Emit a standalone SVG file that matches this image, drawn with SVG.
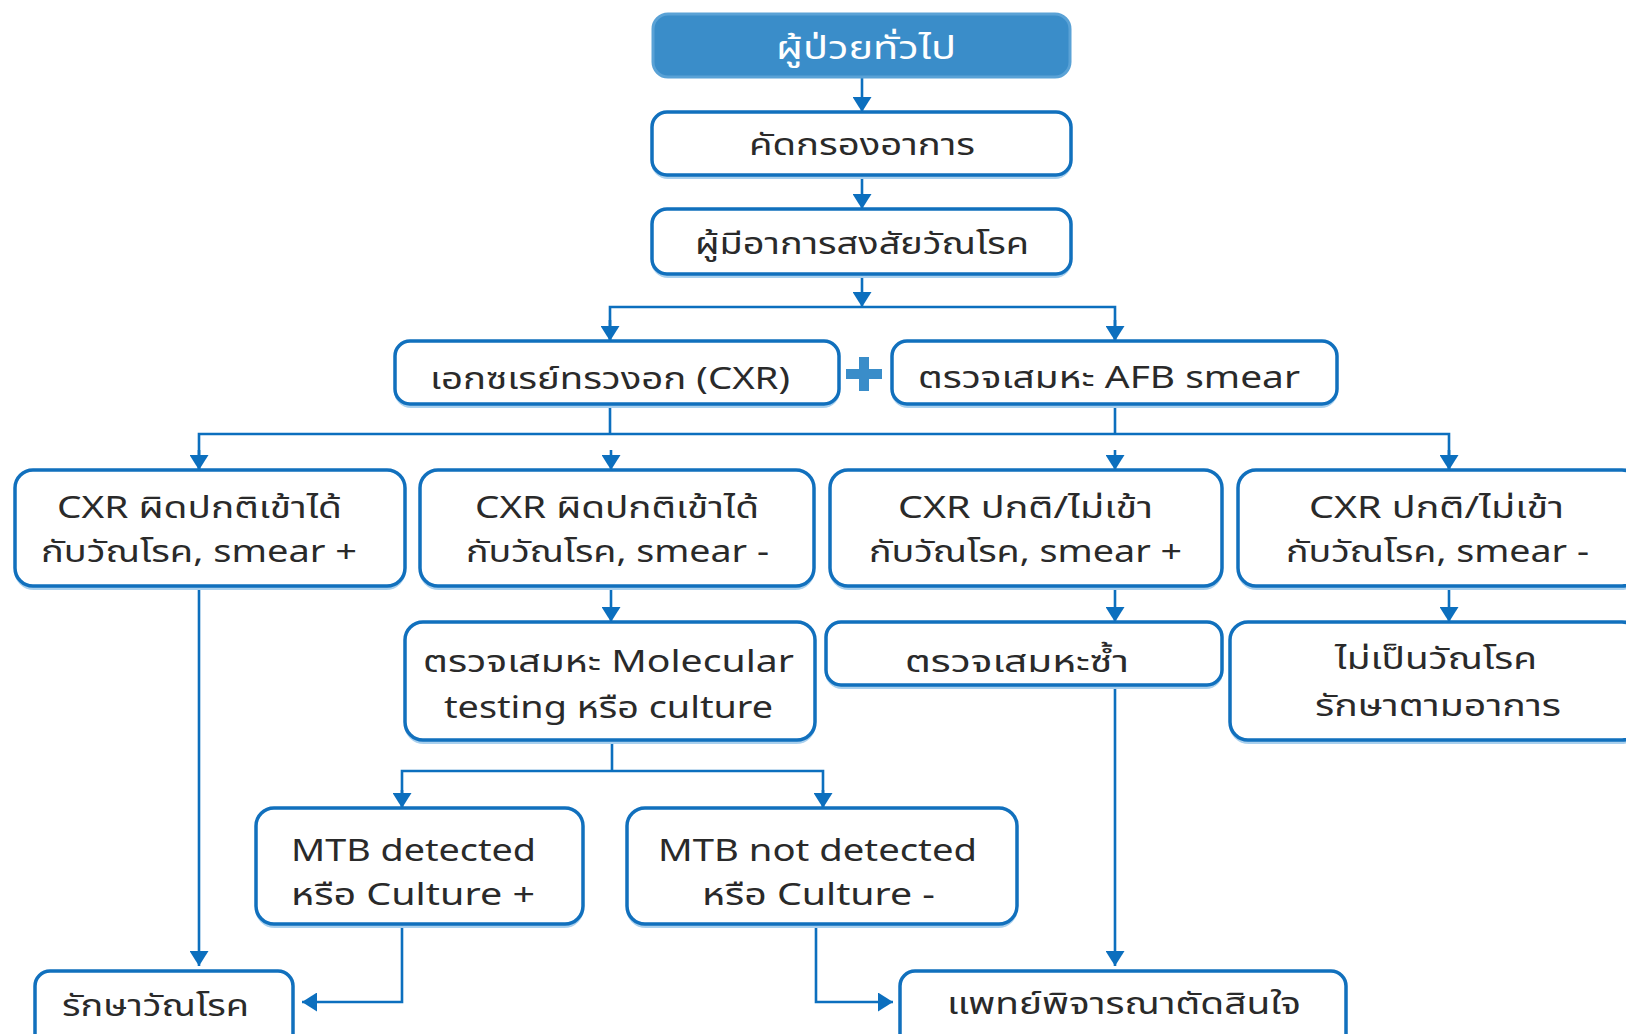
<svg xmlns="http://www.w3.org/2000/svg" width="1626" height="1034" viewBox="0 0 1626 1034">
<style>
.box{fill:#ffffff;stroke:#1170bd;stroke-width:3.5}
.halo{fill:none;stroke:#a9d0ee;stroke-width:4}
.top{fill:#3a8dc9;stroke:#5aa2d6;stroke-width:3}
.t{font-family:"Noto Sans Thai","Noto Sans","DejaVu Sans",sans-serif;font-size:30px;fill:#2a2a2a}
.tw{font-family:"Noto Sans Thai","Noto Sans","DejaVu Sans",sans-serif;font-size:32px;fill:#ffffff}
.c{fill:none;stroke:#0c6fbe;stroke-width:2.6}
</style>
<defs>
<marker id="ah" viewBox="0 0 10 10" refX="10" refY="5" markerWidth="15" markerHeight="19" markerUnits="userSpaceOnUse" orient="auto" preserveAspectRatio="none">
<path d="M0,0 L10,5 L0,10 z" fill="#0c6fbe"/>
</marker>
</defs>

<g id="connectors">
<path class="c" d="M862,77 V112" marker-end="url(#ah)"/>
<path class="c" d="M862,176 V209" marker-end="url(#ah)"/>
<path class="c" d="M862,275 V307" marker-end="url(#ah)"/>
<path class="c" d="M610,341 V307 H1115 V341" />
<path class="c" d="M610,320 V341" marker-end="url(#ah)"/>
<path class="c" d="M1115,320 V341" marker-end="url(#ah)"/>
<path class="c" d="M610,404 V434"/>
<path class="c" d="M1115,404 V434"/>
<path class="c" d="M199,470 V434 H1449 V470"/>
<path class="c" d="M199,450 V470" marker-end="url(#ah)"/>
<path class="c" d="M611,450 V470" marker-end="url(#ah)"/>
<path class="c" d="M1115,450 V470" marker-end="url(#ah)"/>
<path class="c" d="M1449,450 V470" marker-end="url(#ah)"/>
<path class="c" d="M611,586 V622" marker-end="url(#ah)"/>
<path class="c" d="M1115,586 V622" marker-end="url(#ah)"/>
<path class="c" d="M1449,586 V622" marker-end="url(#ah)"/>
<path class="c" d="M612,741 V771"/>
<path class="c" d="M402,808 V771 H823 V808"/>
<path class="c" d="M402,790 V808" marker-end="url(#ah)"/>
<path class="c" d="M823,790 V808" marker-end="url(#ah)"/>
<path class="c" d="M199,586 V966" marker-end="url(#ah)"/>
<path class="c" d="M402,925 V1002 H302" marker-end="url(#ah)"/>
<path class="c" d="M816,925 V1002 H893" marker-end="url(#ah)"/>
<path class="c" d="M1115,686 V966" marker-end="url(#ah)"/>
<path d="M859,357 h10 v12 h13 v10 h-13 v12 h-10 v-12 h-13 v-10 h13 z" fill="#3a8dc9"/>
</g>

<g id="n1">
<rect class="top" x="653" y="14" width="417" height="63" rx="15"/>
<text class="tw" x="776" y="59" textLength="180" lengthAdjust="spacingAndGlyphs">ผู้ป่วยทั่วไป</text>
</g>
<g id="n2">
<rect class="halo" x="653" y="114" width="417" height="63" rx="15"/>
<rect class="box" x="652" y="112" width="419" height="63" rx="15"/>
<text class="t" x="749" y="155" textLength="226" lengthAdjust="spacingAndGlyphs">คัดกรองอาการ</text>
</g>
<g id="n3">
<rect class="halo" x="653" y="211" width="417" height="65" rx="15"/>
<rect class="box" x="652" y="209" width="419" height="65" rx="15"/>
<text class="t" x="695" y="254" textLength="334" lengthAdjust="spacingAndGlyphs">ผู้มีอาการสงสัยวัณโรค</text>
</g>
<g id="n4">
<rect class="halo" x="396" y="343" width="442" height="63" rx="15"/>
<rect class="box" x="395" y="341" width="444" height="63" rx="15"/>
<text class="t" x="430" y="389" textLength="360" lengthAdjust="spacingAndGlyphs">เอกซเรย์ทรวงอก (CXR)</text>
</g>
<g id="n5">
<rect class="halo" x="893" y="343" width="443" height="63" rx="15"/>
<rect class="box" x="892" y="341" width="445" height="63" rx="15"/>
<text class="t" x="918" y="388" textLength="382" lengthAdjust="spacingAndGlyphs">ตรวจเสมหะ AFB smear</text>
</g>
<g id="n6">
<rect class="halo" x="16" y="472" width="388" height="116" rx="18"/>
<rect class="box" x="15" y="470" width="390" height="116" rx="18"/>
<text class="t" x="57" y="518" textLength="285" lengthAdjust="spacingAndGlyphs">CXR ผิดปกติเข้าได้</text>
<text class="t" x="41" y="562" textLength="316" lengthAdjust="spacingAndGlyphs">กับวัณโรค, smear +</text>
</g>
<g id="n7">
<rect class="halo" x="421" y="472" width="392" height="116" rx="18"/>
<rect class="box" x="420" y="470" width="394" height="116" rx="18"/>
<text class="t" x="475" y="518" textLength="284" lengthAdjust="spacingAndGlyphs">CXR ผิดปกติเข้าได้</text>
<text class="t" x="466" y="562" textLength="303" lengthAdjust="spacingAndGlyphs">กับวัณโรค, smear -</text>
</g>
<g id="n8">
<rect class="halo" x="831" y="472" width="390" height="116" rx="18"/>
<rect class="box" x="830" y="470" width="392" height="116" rx="18"/>
<text class="t" x="898" y="518" textLength="255" lengthAdjust="spacingAndGlyphs">CXR ปกติ/ไม่เข้า</text>
<text class="t" x="869" y="562" textLength="313" lengthAdjust="spacingAndGlyphs">กับวัณโรค, smear +</text>
</g>
<g id="n9">
<rect class="halo" x="1239" y="472" width="400" height="116" rx="18"/>
<rect class="box" x="1238" y="470" width="402" height="116" rx="18"/>
<text class="t" x="1309" y="518" textLength="255" lengthAdjust="spacingAndGlyphs">CXR ปกติ/ไม่เข้า</text>
<text class="t" x="1286" y="562" textLength="303" lengthAdjust="spacingAndGlyphs">กับวัณโรค, smear -</text>
</g>
<g id="n10">
<rect class="halo" x="406" y="624" width="408" height="118" rx="18"/>
<rect class="box" x="405" y="622" width="410" height="118" rx="18"/>
<text class="t" x="423" y="672" textLength="371" lengthAdjust="spacingAndGlyphs">ตรวจเสมหะ Molecular</text>
<text class="t" x="444" y="718" textLength="329" lengthAdjust="spacingAndGlyphs">testing หรือ culture</text>
</g>
<g id="n11">
<rect class="halo" x="827" y="624" width="394" height="63" rx="15"/>
<rect class="box" x="826" y="622" width="396" height="63" rx="15"/>
<text class="t" x="905" y="672" textLength="224" lengthAdjust="spacingAndGlyphs">ตรวจเสมหะซ้ำ</text>
</g>
<g id="n12">
<rect class="halo" x="1231" y="624" width="408" height="118" rx="18"/>
<rect class="box" x="1230" y="622" width="410" height="118" rx="18"/>
<text class="t" x="1335" y="669" textLength="202" lengthAdjust="spacingAndGlyphs">ไม่เป็นวัณโรค</text>
<text class="t" x="1315" y="716" textLength="246" lengthAdjust="spacingAndGlyphs">รักษาตามอาการ</text>
</g>
<g id="n13">
<rect class="halo" x="257" y="810" width="325" height="116" rx="18"/>
<rect class="box" x="256" y="808" width="327" height="116" rx="18"/>
<text class="t" x="291" y="861" textLength="245" lengthAdjust="spacingAndGlyphs">MTB detected</text>
<text class="t" x="291" y="905" textLength="244" lengthAdjust="spacingAndGlyphs">หรือ Culture +</text>
</g>
<g id="n14">
<rect class="halo" x="628" y="810" width="388" height="116" rx="18"/>
<rect class="box" x="627" y="808" width="390" height="116" rx="18"/>
<text class="t" x="658" y="861" textLength="319" lengthAdjust="spacingAndGlyphs">MTB not detected</text>
<text class="t" x="702" y="905" textLength="233" lengthAdjust="spacingAndGlyphs">หรือ Culture -</text>
</g>
<g id="n15">
<rect class="halo" x="36" y="973" width="256" height="80" rx="15"/>
<rect class="box" x="35" y="971" width="258" height="80" rx="15"/>
<text class="t" x="62" y="1016" textLength="187" lengthAdjust="spacingAndGlyphs">รักษาวัณโรค</text>
</g>
<g id="n16">
<rect class="halo" x="901" y="973" width="444" height="80" rx="15"/>
<rect class="box" x="900" y="971" width="446" height="80" rx="15"/>
<text class="t" x="947" y="1014" textLength="354" lengthAdjust="spacingAndGlyphs">แพทย์พิจารณาตัดสินใจ</text>
</g>
</svg>
